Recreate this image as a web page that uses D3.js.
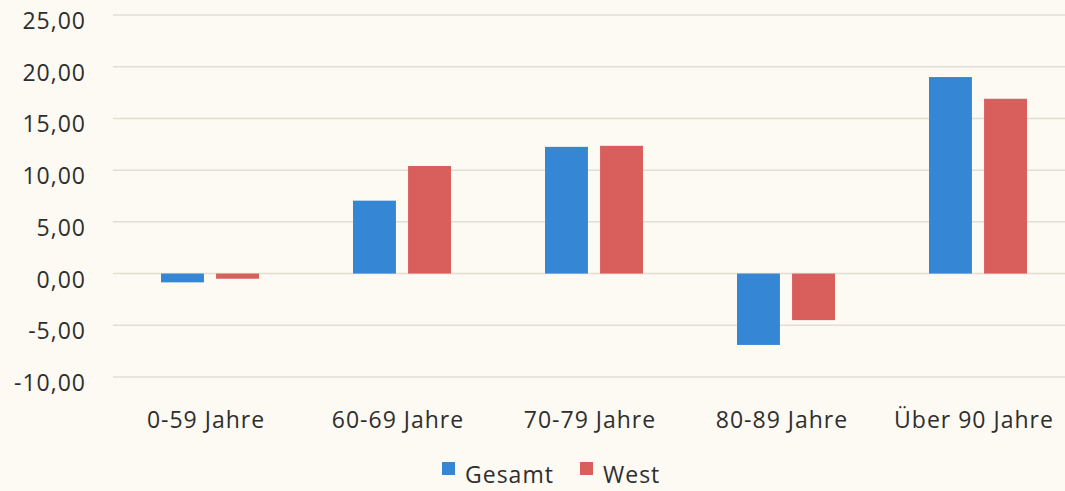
<!DOCTYPE html>
<html lang="de">
<head>
<meta charset="utf-8">
<title>Gesamt / West</title>
<script src="https://d3js.org/d3.v7.min.js"></script>
<style>
  body { margin: 0; background: #fcfaf2; }
  svg { display: block; }
  text { font-family: "Open Sans", Lato, sans-serif; fill: #2e2e2e; font-size: 23px; letter-spacing: 1px; }
</style>
</head>
<body>
<div id="chart"></div>
<script>
// values
var categories = ["0-59 Jahre", "60-69 Jahre", "70-79 Jahre", "80-89 Jahre", "Über 90 Jahre"];
var seriesNames = ["Gesamt", "West"];
var gesamt = [-0.85, 7.05, 12.25, -6.9, 19.0];
var west = [-0.5, 10.4, 12.35, -4.5, 16.9];
var yTicks = [-10, -5, 0, 5, 10, 15, 20, 25];
var colors = ["#3686d6", "#d95f5d"];

var W = 1065, H = 491;
var svg = d3.select("#chart").append("svg")
    .attr("width", W).attr("height", H);

// one band per category, bars sit in the middle of it
var x = d3.scaleBand()
    .domain(categories)
    .range([114, 1074]);

var groupW = 98;
var xs = d3.scaleBand()
    .domain(seriesNames)
    .range([(x.bandwidth() - groupW) / 2, (x.bandwidth() + groupW) / 2])
    .paddingInner(0.22);

var y = d3.scaleLinear()
    .domain([-10, 25])
    .range([377, 15]);

// grid lines
svg.append("g")
  .selectAll("line")
  .data(yTicks)
  .join("line")
    .attr("x1", 113).attr("x2", W)
    .attr("y1", function(d) { return y(d); })
    .attr("y2", function(d) { return y(d); })
    .attr("stroke", "#e2ded4")
    .attr("stroke-width", 1.5);

// y axis labels
var fmt = function(d) { return d3.format(".2f")(d).replace(".", ",").replace("−", "-"); };
svg.append("g")
  .selectAll("text")
  .data(yTicks)
  .join("text")
    .attr("x", 86)
    .attr("y", function(d) { return y(d) + 14; })
    .attr("text-anchor", "end")
    .text(fmt);

// bars
var data = categories.map(function(c, i) {
  return { cat: c, values: [gesamt[i], west[i]] };
});

var groups = svg.append("g")
  .selectAll("g")
  .data(data)
  .join("g")
    .attr("transform", function(d) { return "translate(" + x(d.cat) + ",0)"; });

groups.selectAll("rect")
  .data(function(d) { return d.values.map(function(v, j) { return { key: seriesNames[j], v: v, j: j }; }); })
  .join("rect")
    .attr("x", function(d) { return xs(d.key); })
    .attr("width", xs.bandwidth())
    .attr("y", function(d) { return y(Math.max(0, d.v)); })
    .attr("height", function(d) { return Math.abs(y(d.v) - y(0)); })
    .attr("fill", function(d) { return colors[d.j]; });

// x labels
svg.append("g")
  .selectAll("text")
  .data(categories)
  .join("text")
    .attr("x", function(d) { return x(d) + x.bandwidth() / 2 - 4; })
    .attr("y", 428)
    .attr("text-anchor", "middle")
    .text(function(d) { return d; });

// legend
var legend = svg.append("g");
var legendX = [442, 580];
seriesNames.forEach(function(s, i) {
  legend.append("rect")
    .attr("x", legendX[i]).attr("y", 462)
    .attr("width", 13).attr("height", 13)
    .attr("fill", colors[i]);
  legend.append("text")
    .attr("x", legendX[i] + 23).attr("y", 483)
    .text(s);
});
</script>
</body>
</html>
